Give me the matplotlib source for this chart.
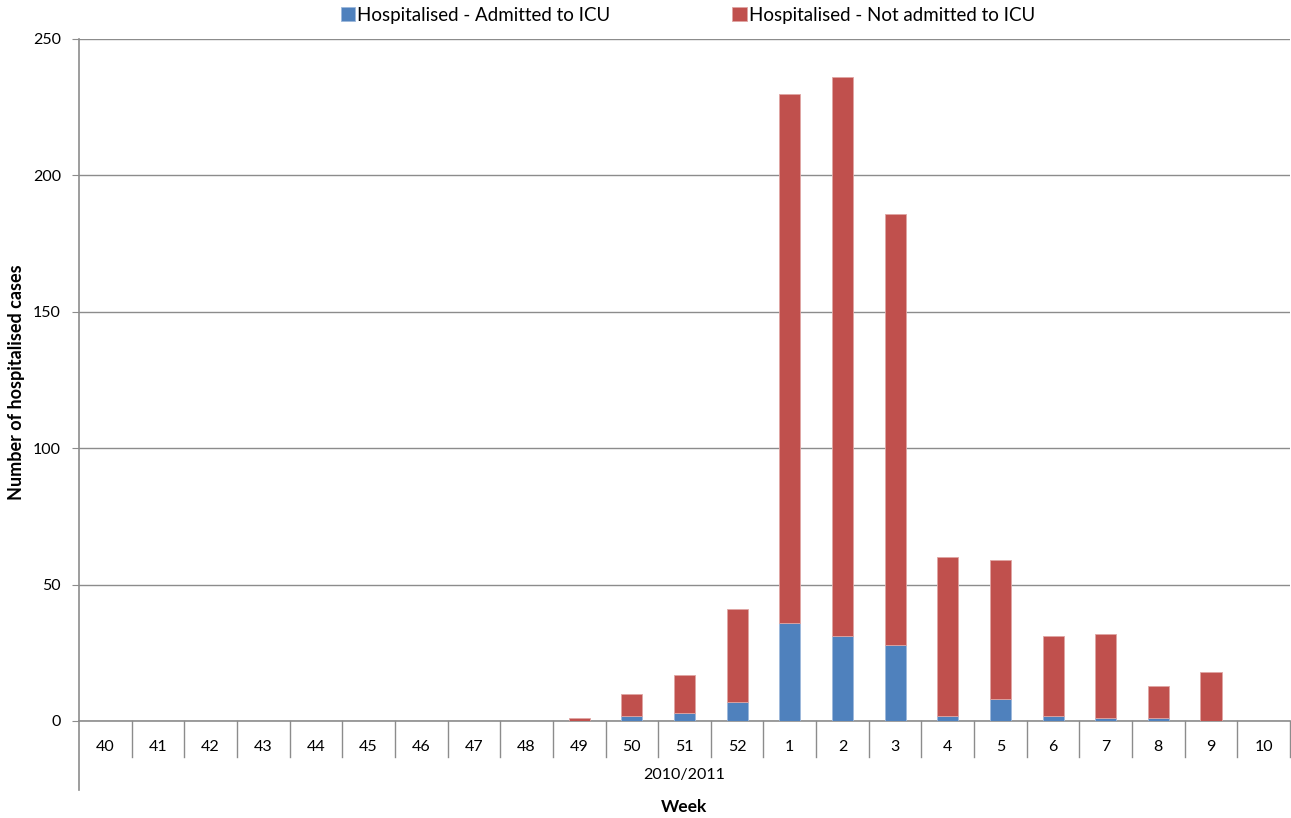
import numpy as np
import matplotlib.pyplot as plt

weeks = ['40', '41', '42', '43', '44', '45', '46', '47', '48', '49', '50', '51', '52',
         '1', '2', '3', '4', '5', '6', '7', '8', '9', '10']
icu = [0, 0, 0, 0, 0, 0, 0, 0, 0, 0, 2, 3, 7, 36, 31, 28, 2, 8, 2, 1, 1, 0, 0]
total = [0, 0, 0, 0, 0, 0, 0, 0, 0, 1, 10, 17, 41, 230, 236, 186, 60, 59, 31, 32, 13, 18, 0]
not_icu = [t - i for t, i in zip(total, icu)]

plt.rcParams['font.family'] = ['Lato', 'DejaVu Sans']

fig = plt.figure(figsize=(12.91, 8.18), dpi=100)
W, H = 1291, 818
ax = fig.add_axes([79/W, (H-721)/H, (1290-79)/W, (721-39)/H])

x = np.arange(len(weeks))
blue = '#4F81BD'
red = '#C0504D'
ax.bar(x, icu, width=0.4, color=blue, edgecolor='#9db8db', linewidth=0.6,
       label='Hospitalised - Admitted to ICU', zorder=3)
ax.bar(x, not_icu, bottom=icu, width=0.4, color=red, edgecolor='#e0a5a3', linewidth=0.6,
       label='Hospitalised - Not admitted to ICU', zorder=3)

ax.set_xlim(-0.5, len(weeks) - 0.5)
ax.set_ylim(0, 250)
ax.set_yticks(range(0, 251, 50))
ax.yaxis.grid(True, color='#8c8c8c', linewidth=1)
ax.set_axisbelow(True)
ax.tick_params(axis='y', direction='out', length=5, color='#8c8c8c', labelsize=11.5, pad=8)

for s in ['top', 'right']:
    ax.spines[s].set_visible(False)
ax.spines['left'].set_color('#8c8c8c')
ax.spines['bottom'].set_color('#8c8c8c')
ax.spines['left'].set_linewidth(1.2)
ax.spines['bottom'].set_linewidth(1.2)

ax.set_xticks(x)
ax.set_xticklabels(weeks)
ax.tick_params(axis='x', length=0, labelsize=11.5, pad=14)

# category separators below the axis
tr = ax.get_xaxis_transform()
sep_low = -(757 - 721) / (721 - 39)
for b in np.arange(0.5, len(weeks) - 1, 1.0):
    ax.plot([b, b], [0, sep_low], transform=tr, color='#8c8c8c', lw=1, clip_on=False)
ax.plot([1, 1], [0, sep_low], transform=ax.transAxes, color='#8c8c8c', lw=1, clip_on=False)
ax.plot([0, 0], [0, -(790 - 721) / (721 - 39)], transform=ax.transAxes,
        color='#8c8c8c', lw=1.2, clip_on=False)

ax.text(0.5, -(775 - 721) / (721 - 39), '2010/2011', transform=ax.transAxes,
        ha='center', va='center', fontsize=11.5)
fig.text(684/W, 1 - 807/H, 'Week', ha='center', va='center', fontsize=12.5, fontweight='bold')
fig.text(17/W, 1 - 382/H, 'Number of hospitalised cases', rotation=90, ha='center',
         va='center', fontsize=13, fontweight='bold')

fig.legend(loc='center', bbox_to_anchor=(688/W, 1 - 15/H), ncol=2, frameon=False,
           fontsize=13.5, handlelength=0.75, handleheight=0.75, handletextpad=0.15,
           columnspacing=6.5)

fig.savefig('out.png', dpi=100)
